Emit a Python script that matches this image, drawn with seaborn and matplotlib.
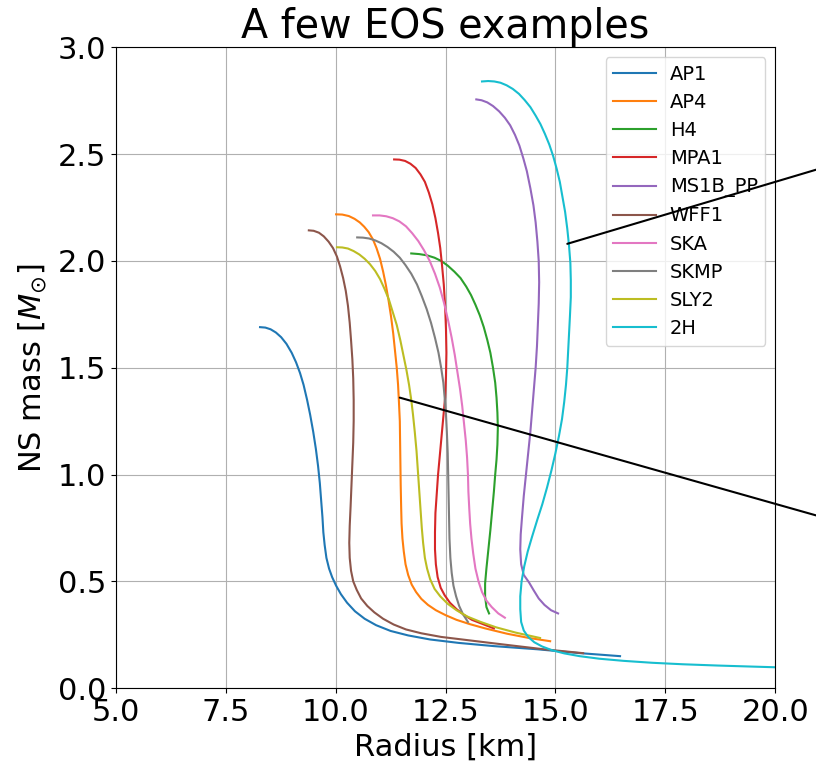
import matplotlib
matplotlib.use("Agg")
import matplotlib.pyplot as plt
from matplotlib.patches import ConnectionPatch
import seaborn as sns
import pandas as pd

# Mass-radius curves (radius in km, mass in solar masses)
ap1_r = [8.28, 8.40, 8.52, 8.64, 8.76, 8.88, 9.00, 9.10, 9.19, 9.27, 9.35, 9.42, 9.49, 9.55,
         9.60, 9.64, 9.67, 9.70, 9.72, 9.75, 9.79, 9.85, 9.92, 10.01, 10.12, 10.26, 10.44, 10.66,
         10.92, 11.25, 11.65, 12.15, 12.80, 13.60, 14.60, 15.50, 16.47]
ap1_m = [1.690, 1.688, 1.680, 1.665, 1.643, 1.612, 1.570, 1.525, 1.475, 1.420, 1.350, 1.280, 1.200, 1.120,
         1.040, 0.960, 0.880, 0.800, 0.730, 0.670, 0.610, 0.560, 0.520, 0.480, 0.440, 0.400, 0.360, 0.325,
         0.295, 0.268, 0.247, 0.228, 0.212, 0.197, 0.182, 0.165, 0.150]

ap4_r = [10.01, 10.15, 10.30, 10.43, 10.55, 10.65, 10.75, 10.85, 10.93, 11.01, 11.08, 11.14, 11.20,
         11.26, 11.31, 11.35, 11.39, 11.42, 11.44, 11.46, 11.47, 11.48, 11.49, 11.50, 11.52, 11.55,
         11.59, 11.65, 11.73, 11.83, 11.95, 12.10, 12.28, 12.50, 12.75, 13.05, 13.40, 13.90, 14.40, 14.88]
ap4_m = [2.218, 2.217, 2.210, 2.197, 2.180, 2.160, 2.135, 2.100, 2.060, 2.010, 1.950, 1.890, 1.820,
         1.740, 1.660, 1.580, 1.500, 1.420, 1.340, 1.250, 1.100, 0.950, 0.850, 0.770, 0.700, 0.640,
         0.580, 0.530, 0.485, 0.450, 0.418, 0.390, 0.365, 0.342, 0.320, 0.300, 0.280, 0.255, 0.235, 0.220]

h4_r = [11.72, 11.90, 12.08, 12.25, 12.40, 12.55, 12.70, 12.84, 12.97, 13.08, 13.18, 13.28, 13.37,
        13.45, 13.52, 13.58, 13.63, 13.66, 13.68, 13.69, 13.68, 13.66, 13.63, 13.60, 13.56, 13.52,
        13.47, 13.43, 13.40, 13.40, 13.43, 13.49]
h4_m = [2.035, 2.032, 2.026, 2.015, 2.000, 1.978, 1.950, 1.920, 1.880, 1.840, 1.795, 1.745, 1.690,
        1.630, 1.570, 1.500, 1.430, 1.360, 1.290, 1.220, 1.140, 1.070, 1.000, 0.920, 0.830, 0.740,
        0.640, 0.560, 0.490, 0.430, 0.380, 0.350]

mpa1_r = [11.33, 11.45, 11.58, 11.70, 11.82, 11.93, 12.03, 12.12, 12.20, 12.27, 12.33, 12.38, 12.42,
          12.46, 12.49, 12.51, 12.52, 12.51, 12.49, 12.45, 12.41, 12.37, 12.33, 12.30, 12.27, 12.26,
          12.26, 12.28, 12.32, 12.39, 12.48, 12.60, 12.75, 12.92, 13.10, 13.35, 13.60]
mpa1_m = [2.475, 2.474, 2.468, 2.455, 2.435, 2.405, 2.370, 2.320, 2.265, 2.200, 2.130, 2.060, 1.980,
          1.890, 1.790, 1.680, 1.570, 1.460, 1.360, 1.270, 1.180, 1.090, 1.000, 0.910, 0.820, 0.730,
          0.650, 0.580, 0.520, 0.470, 0.435, 0.400, 0.370, 0.343, 0.320, 0.300, 0.280]

ms1b_r = [13.20, 13.32, 13.45, 13.58, 13.72, 13.85, 13.97, 14.08, 14.18, 14.27, 14.35, 14.43, 14.50,
          14.55, 14.59, 14.62, 14.63, 14.62, 14.60, 14.58, 14.55, 14.51, 14.47, 14.43, 14.38, 14.33,
          14.28, 14.24, 14.21, 14.20, 14.22, 14.28, 14.40, 14.50, 14.62, 14.75, 14.90, 15.06]
ms1b_m = [2.756, 2.752, 2.742, 2.725, 2.700, 2.670, 2.635, 2.590, 2.540, 2.480, 2.420, 2.340, 2.260,
          2.180, 2.090, 2.000, 1.900, 1.800, 1.700, 1.600, 1.500, 1.400, 1.300, 1.200, 1.100, 1.000,
          0.900, 0.800, 0.720, 0.650, 0.580, 0.530, 0.495, 0.460, 0.420, 0.390, 0.365, 0.350]

wff1_r = [9.39, 9.50, 9.62, 9.73, 9.84, 9.94, 10.03, 10.10, 10.17, 10.23, 10.28, 10.32, 10.35,
          10.38, 10.40, 10.41, 10.41, 10.40, 10.38, 10.36, 10.34, 10.32, 10.31, 10.32, 10.35, 10.40,
          10.48, 10.58, 10.72, 10.88, 11.08, 11.32, 11.60, 11.95, 12.40, 13.00, 13.80, 14.70, 15.63]
wff1_m = [2.143, 2.141, 2.132, 2.115, 2.090, 2.060, 2.020, 1.975, 1.920, 1.860, 1.790, 1.710, 1.630,
          1.540, 1.450, 1.350, 1.250, 1.150, 1.050, 0.950, 0.850, 0.760, 0.680, 0.610, 0.550, 0.500,
          0.460, 0.420, 0.385, 0.355, 0.325, 0.298, 0.275, 0.257, 0.240, 0.225, 0.205, 0.183, 0.164]

ska_r = [10.85, 11.00, 11.15, 11.30, 11.45, 11.60, 11.74, 11.88, 12.01, 12.14, 12.26, 12.37, 12.47,
         12.56, 12.64, 12.71, 12.77, 12.83, 12.88, 12.92, 12.96, 12.99, 13.01, 13.02, 13.04, 13.06,
         13.09, 13.13, 13.18, 13.25, 13.33, 13.43, 13.55, 13.70, 13.85]
ska_m = [2.213, 2.213, 2.209, 2.200, 2.185, 2.162, 2.130, 2.093, 2.050, 2.000, 1.940, 1.875, 1.800,
         1.720, 1.640, 1.560, 1.480, 1.400, 1.320, 1.240, 1.160, 1.080, 1.000, 0.920, 0.840, 0.770,
         0.700, 0.630, 0.560, 0.500, 0.450, 0.410, 0.380, 0.350, 0.330]

skmp_r = [10.49, 10.62, 10.76, 10.90, 11.04, 11.18, 11.32, 11.46, 11.59, 11.72, 11.85, 11.96, 12.07,
          12.17, 12.26, 12.34, 12.40, 12.45, 12.48, 12.51, 12.53, 12.55, 12.56, 12.57, 12.58, 12.59,
          12.61, 12.64, 12.68, 12.74, 12.81, 12.90, 13.01]
skmp_m = [2.110, 2.109, 2.105, 2.096, 2.083, 2.065, 2.043, 2.015, 1.980, 1.940, 1.890, 1.835, 1.775,
          1.710, 1.640, 1.570, 1.500, 1.430, 1.360, 1.280, 1.200, 1.100, 1.000, 0.900, 0.800, 0.700,
          0.610, 0.540, 0.480, 0.430, 0.385, 0.345, 0.310]

sly2_r = [10.03, 10.15, 10.28, 10.41, 10.54, 10.66, 10.78, 10.90, 11.01, 11.11, 11.21, 11.30, 11.39,
          11.47, 11.54, 11.61, 11.67, 11.72, 11.76, 11.80, 11.84, 11.87, 11.90, 11.93, 11.96, 11.99,
          12.03, 12.08, 12.15, 12.25, 12.38, 12.55, 12.75, 13.00, 13.30, 13.65, 14.10, 14.65]
sly2_m = [2.064, 2.063, 2.058, 2.046, 2.030, 2.010, 1.985, 1.953, 1.915, 1.870, 1.820, 1.760, 1.700,
          1.630, 1.560, 1.490, 1.420, 1.350, 1.280, 1.200, 1.110, 1.020, 0.930, 0.840, 0.750, 0.680,
          0.610, 0.560, 0.510, 0.465, 0.430, 0.395, 0.365, 0.335, 0.310, 0.285, 0.260, 0.235]

h2_r = [13.33, 13.47, 13.61, 13.75, 13.89, 14.03, 14.17, 14.30, 14.43, 14.55, 14.66, 14.76, 14.86,
        14.95, 15.03, 15.10, 15.16, 15.22, 15.27, 15.31, 15.34, 15.35, 15.35, 15.33, 15.31, 15.29,
        15.27, 15.24, 15.20, 15.15, 15.08, 15.00, 14.91, 14.81, 14.70, 14.59, 14.47, 14.37, 14.29,
        14.23, 14.20, 14.20, 14.22, 14.28, 14.38, 14.52, 14.70, 14.92, 15.20, 15.55, 16.00, 16.55,
        17.20, 17.90, 18.70, 19.50, 20.00, 20.50]
h2_m = [2.840, 2.842, 2.840, 2.834, 2.822, 2.805, 2.782, 2.753, 2.720, 2.680, 2.640, 2.595, 2.545,
        2.490, 2.430, 2.370, 2.300, 2.230, 2.150, 2.070, 1.990, 1.910, 1.830, 1.740, 1.660, 1.580,
        1.500, 1.420, 1.340, 1.260, 1.180, 1.100, 1.020, 0.940, 0.860, 0.790, 0.710, 0.640, 0.570,
        0.500, 0.430, 0.370, 0.310, 0.270, 0.240, 0.215, 0.195, 0.178, 0.163, 0.150, 0.138, 0.128,
        0.119, 0.112, 0.106, 0.101, 0.098, 0.096]

eos_names = ["AP1", "AP4", "H4", "MPA1", "MS1B_PP", "WFF1", "SKA", "SKMP", "SLY2", "2H"]
radii = [ap1_r, ap4_r, h4_r, mpa1_r, ms1b_r, wff1_r, ska_r, skmp_r, sly2_r, h2_r]
masses = [ap1_m, ap4_m, h4_m, mpa1_m, ms1b_m, wff1_m, ska_m, skmp_m, sly2_m, h2_m]

# connector lines leading to panels outside this crop: (R, M) start, figure-fraction end
link_start = [(15.27, 2.08), (11.46, 1.36)]
link_end = [(1.0, 0.781), (1.0, 0.335)]

x_ticks = [5.0, 7.5, 10.0, 12.5, 15.0, 17.5, 20.0]
y_ticks = [0.0, 0.5, 1.0, 1.5, 2.0, 2.5, 3.0]

rows = []
for name, rr, mm in zip(eos_names, radii, masses):
    for r, m in zip(rr, mm):
        rows.append([name, r, m])
df = pd.DataFrame(rows, columns=["EOS", "R", "M"])

fig = plt.figure(figsize=(8.16, 7.75), dpi=100)
ax = fig.add_subplot(111)
fig.subplots_adjust(left=0.142, right=0.95, bottom=0.112, top=0.939)

sns.lineplot(data=df, x="R", y="M", hue="EOS", hue_order=eos_names, palette="tab10",
             sort=False, estimator=None, lw=1.5, ax=ax)

ax.set_xlim(5, 20)
ax.set_ylim(0, 3)
ax.set_xticks(x_ticks)
ax.set_yticks(y_ticks)
ax.grid(True)
ax.tick_params(labelsize=22)
ax.set_xlabel("Radius [km]", fontsize=22)
ax.set_ylabel(r"NS mass [$M_{\odot}$]", fontsize=22, labelpad=6)
ax.set_title("A few EOS examples", fontsize=28.5)

handles, labels = ax.get_legend_handles_labels()
ax.legend(handles, labels, loc="upper right", fontsize=14, handlelength=2.2,
          handletextpad=0.7, labelspacing=0.47)

for (xa, ya), (xb, yb) in zip(link_start, link_end):
    con = ConnectionPatch(xyA=(xa, ya), coordsA=ax.transData,
                          xyB=(xb, yb), coordsB=fig.transFigure,
                          color="black", lw=1.5)
    fig.add_artist(con)

fig.savefig("out.png", dpi=100)
